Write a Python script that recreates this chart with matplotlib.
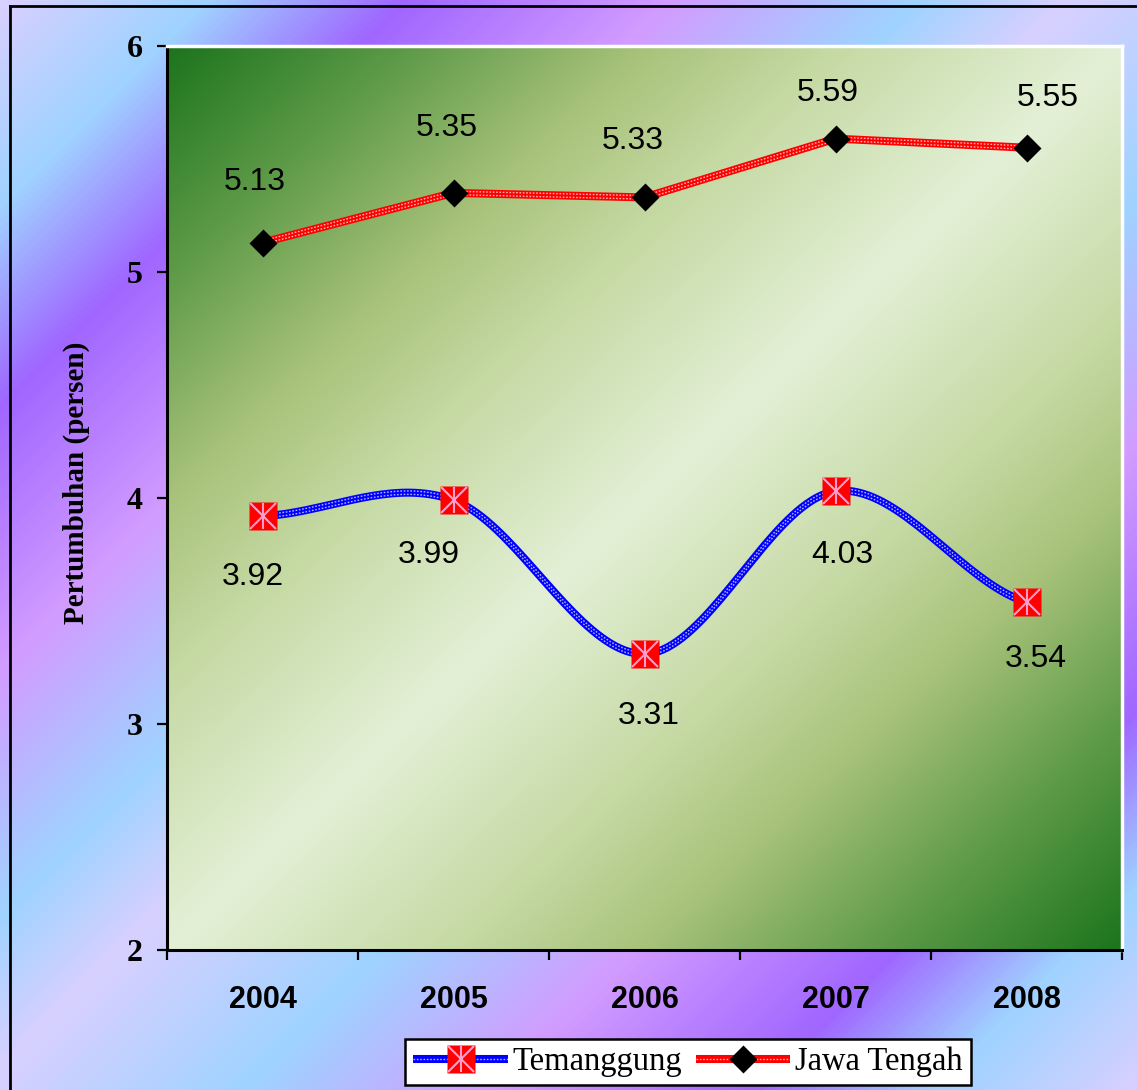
import numpy as np
import matplotlib.pyplot as plt
import matplotlib.transforms as mtransforms
from matplotlib.colors import LinearSegmentedColormap
from matplotlib.lines import Line2D
from matplotlib.legend_handler import HandlerTuple

years = ["2004", "2005", "2006", "2007", "2008"]
temanggung = [3.92, 3.99, 3.31, 4.03, 3.54]
jawa_tengah = [5.13, 5.35, 5.33, 5.59, 5.55]
y_ticks = [2, 3, 4, 5, 6]

# value label offsets (pixels) relative to each marker
tem_offsets = [(-10, -61), (-25, -55), (4, -62), (7, -64), (9, -57)]
jt_offsets = [(-8, 61), (-7, 65), (-12, 56), (-8, 46), (21, 50)]

W, H = 1137, 1090
LAV, SKY, VIO, PINK = "#d8d0ff", "#9fd3ff", "#a066ff", "#d29cff"

bg_cmap = LinearSegmentedColormap.from_list("pastel", [
    (0.00, LAV), (0.09, SKY), (0.18, VIO), (0.30, PINK), (0.41, SKY),
    (0.48, LAV), (0.60, SKY), (0.71, PINK), (0.83, VIO), (0.91, SKY),
    (1.00, LAV)])
green_cmap = LinearSegmentedColormap.from_list("green", [
    (0.00, "#e3f0d6"), (0.30, "#c5d9a3"), (0.50, "#a8c27a"),
    (0.75, "#5d9a48"), (1.00, "#1c741c")])


def smooth(ys, steps=40):
    # cubic hermite through the points, catmull-rom tangents
    ys = np.asarray(ys, float)
    n = len(ys)
    m = np.empty(n)
    m[1:-1] = (ys[2:] - ys[:-2]) / 2
    m[0] = (ys[1] - ys[0]) / 2
    m[-1] = (ys[-1] - ys[-2]) / 2
    xs_out, ys_out = [], []
    t = np.linspace(0, 1, steps, endpoint=False)
    h00 = 2 * t**3 - 3 * t**2 + 1
    h10 = t**3 - 2 * t**2 + t
    h01 = -2 * t**3 + 3 * t**2
    h11 = t**3 - t**2
    for i in range(n - 1):
        xs_out.append(i + t)
        ys_out.append(h00 * ys[i] + h10 * m[i] + h01 * ys[i + 1] + h11 * m[i + 1])
    xs_out.append([n - 1])
    ys_out.append([ys[-1]])
    return np.concatenate(xs_out), np.concatenate(ys_out)


def patterned_line(ax, sx, sy, color):
    ax.plot(sx, sy, color=color, lw=5.8, solid_capstyle="butt", zorder=3)
    for dy in (-1.7, 1.7):
        tr = mtransforms.offset_copy(ax.transData, fig=ax.figure, x=0, y=dy, units="dots")
        ax.plot(sx, sy, color="white", lw=1.0, ls=(0, (1.2, 1.2)), alpha=0.7,
                transform=tr, zorder=4)


fig = plt.figure(figsize=(W / 100, H / 100), dpi=100)

# figure background
bg = fig.add_axes([0, 0, 1, 1], zorder=-10)
gx, gy = np.meshgrid(np.arange(0, W, 2), np.arange(0, H, 2))
bg.imshow((gx + gy) / (W + H), cmap=bg_cmap, vmin=0, vmax=1, aspect="auto",
          extent=[0, 1, 0, 1], interpolation="bilinear")
bg.set_xlim(0, 1)
bg.set_ylim(0, 1)
bg.axis("off")
# outer border
bg.plot([10 / W, 10 / W], [0, 1 - 6 / H], color="black", lw=2, clip_on=False)
bg.plot([10 / W, 1], [1 - 6 / H, 1 - 6 / H], color="black", lw=2, clip_on=False)

ax = fig.add_axes([167 / W, 1 - 950 / H, (1122 - 167) / W, (950 - 46) / H], zorder=1)
ax.set_facecolor("none")

# plot area gradient: dark corners top-left / bottom-right, pale anti-diagonal
u, v = np.meshgrid(np.linspace(0, 1, 400), np.linspace(0, 1, 400))
ax.imshow(np.abs(u + v - 1), cmap=green_cmap, vmin=0, vmax=1, aspect="auto",
          extent=(-0.5, 4.5, 2, 6), origin="upper", interpolation="bilinear", zorder=0)

x = np.arange(len(years))
patterned_line(ax, *smooth(temanggung), "#0000ff")
patterned_line(ax, x, jawa_tengah, "#ff0000")

ax.plot(x, temanggung, ls="none", marker="s", ms=20.5, mfc="#ff0000", mec="none", zorder=5)
for mk in ("x", "|"):
    ax.plot(x, temanggung, ls="none", marker=mk, ms=19, mec="#ff9ec8", mew=1.5, zorder=6)
ax.plot(x, jawa_tengah, ls="none", marker="D", ms=14.3, mfc="black", mec="none", zorder=5)

for xi, val, (dx, dy) in zip(x, temanggung, tem_offsets):
    ax.annotate(f"{val:.2f}", (xi, val), xytext=(dx, dy), textcoords="offset pixels",
                ha="center", va="center", fontsize=23, family="Liberation Sans", zorder=7)
for xi, val, (dx, dy) in zip(x, jawa_tengah, jt_offsets):
    ax.annotate(f"{val:.2f}", (xi, val), xytext=(dx, dy), textcoords="offset pixels",
                ha="center", va="center", fontsize=23, family="Liberation Sans", zorder=7)

ax.set_xlim(-0.5, 4.5)
ax.set_ylim(2, 6)

ax.set_yticks(y_ticks)
ax.set_yticklabels([str(t) for t in y_ticks], fontsize=23, fontweight="bold",
                   family="Liberation Serif")
ax.set_xticks(np.arange(-0.5, 5, 1))
ax.set_xticklabels([])
ax.set_xticks(x, minor=True)
ax.set_xticklabels(years, minor=True, fontsize=22, fontweight="bold",
                   family="Liberation Sans")
ax.tick_params(axis="both", which="major", direction="out", length=7.5, width=1.6,
               color="black")
ax.tick_params(axis="y", pad=10)
ax.tick_params(axis="x", which="minor", length=0, pad=25)

for side in ("left", "bottom"):
    ax.spines[side].set_color("black")
    ax.spines[side].set_linewidth(2.2)
for side in ("top", "right"):
    ax.spines[side].set_color("white")
    ax.spines[side].set_linewidth(2.5)

fig.text(76 / W, 1 - 483 / H, "Pertumbuhan (persen)", rotation=90, ha="center",
         va="center", fontsize=21, fontweight="bold", family="Liberation Serif")

# legend with patterned line proxies
def legend_proxy(color, markers):
    base = Line2D([], [], color=color, lw=5.8, solid_capstyle="butt")
    dots = Line2D([], [], color="white", lw=1.0, ls=(0, (1.2, 1.2)), alpha=0.7)
    return tuple([base, dots] + markers)

tem_handle = legend_proxy("#0000ff", [
    Line2D([], [], ls="none", marker="s", ms=20.5, mfc="#ff0000", mec="none"),
    Line2D([], [], ls="none", marker="x", ms=19, mec="#ff9ec8", mew=1.5),
    Line2D([], [], ls="none", marker="|", ms=19, mec="#ff9ec8", mew=1.5)])
jt_handle = legend_proxy("#ff0000", [
    Line2D([], [], ls="none", marker="D", ms=14.3, mfc="black", mec="none")])

leg = fig.legend([tem_handle, jt_handle], ["Temanggung", "Jawa Tengah"],
                 handler_map={tuple: HandlerTuple(ndivide=1)},
                 loc="center", bbox_to_anchor=(688 / W, 1 - 1062 / H), ncol=2,
                 prop={"family": "Liberation Serif", "size": 23.5},
                 handlelength=2.9, handletextpad=0.15, columnspacing=0.4,
                 borderpad=0.25, fancybox=False, framealpha=1, edgecolor="black",
                 numpoints=1)
leg.get_frame().set_linewidth(1.8)
leg.set_zorder(10)

fig.savefig("out.png", dpi=100)
